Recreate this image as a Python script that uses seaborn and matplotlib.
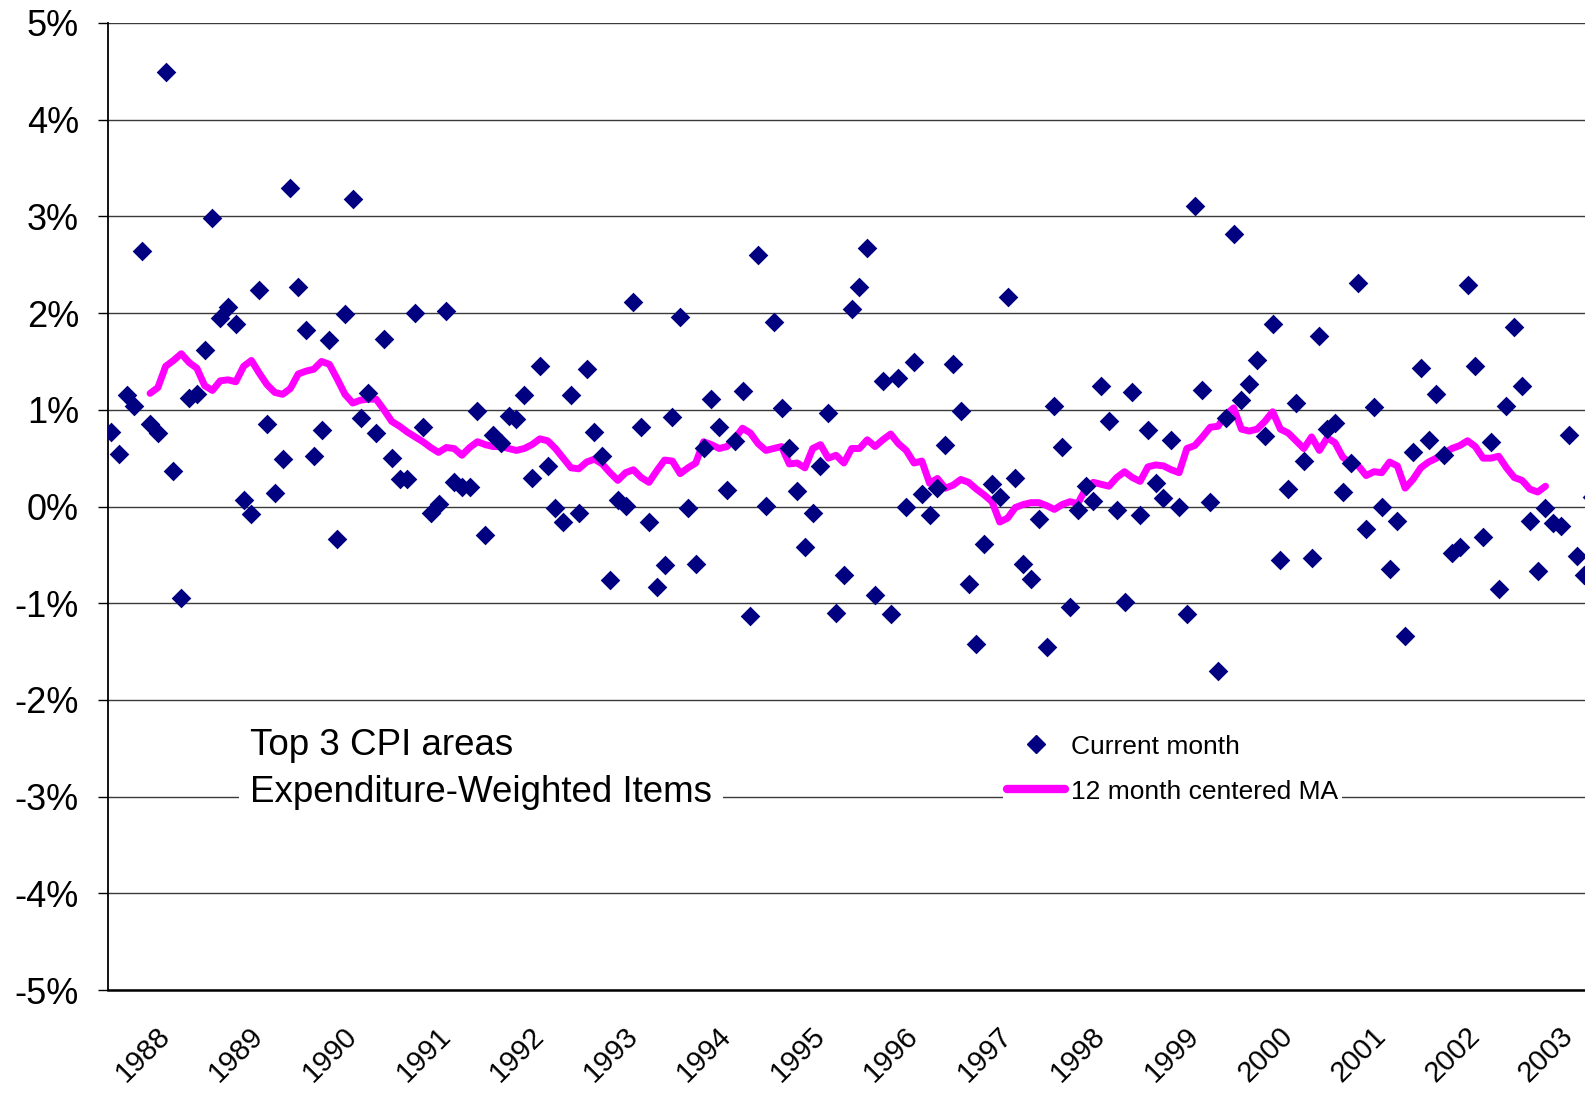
import numpy as np
import pandas as pd
import matplotlib
matplotlib.use("Agg")
import matplotlib.pyplot as plt
from matplotlib.ticker import FuncFormatter
from matplotlib.lines import Line2D
import seaborn as sns

# --- dados (variacao mensal, %) ---
current_month = [
    0.77, 0.54, 1.15, 1.04, 2.64, 0.85, 0.76, 4.49, 0.37, -0.95,
    1.12, 1.16, 1.62, 2.98, 1.95, 2.06, 1.89, 0.07, -0.08, 2.24,
    0.85, 0.14, 0.49, 3.29, 2.27, 1.83, 0.52, 0.79, 1.72, -0.34,
    1.99, 3.18, 0.92, 1.17, 0.76, 1.73, 0.50, 0.28, 0.28, 2.00,
    0.82, -0.07, 0.03, 2.02, 0.25, 0.20, 0.20, 0.99, -0.29, 0.74,
    0.66, 0.94, 0.90, 1.15, 0.29, 1.45, 0.42, -0.02, -0.16, 1.15,
    -0.07, 1.42, 0.77, 0.52, -0.76, 0.07, 0.01, 2.11, 0.82, -0.16,
    -0.83, -0.60, 0.93, 1.96, -0.02, -0.59, 0.60, 1.11, 0.82, 0.17,
    0.68, 1.19, -1.13, 2.60, 0.01, 1.91, 1.02, 0.61, 0.16, -0.42,
    -0.07, 0.42, 0.97, -1.10, -0.71, 2.04, 2.27, 2.67, -0.92, 1.30,
    -1.11, 1.33, -0.01, 1.49, 0.13, -0.09, 0.19, 0.64, 1.47, 0.99,
    -0.80, -1.42, -0.39, 0.23, 0.10, 2.17, 0.29, -0.59, -0.75, -0.13,
    -1.45, 1.04, 0.62, -1.04, -0.04, 0.21, 0.06, 1.25, 0.88, -0.04,
    -0.99, 1.18, -0.09, 0.79, 0.24, 0.09, 0.69, -0.01, -1.11, 3.11,
    1.20, 0.05, -1.70, 0.92, 2.82, 1.10, 1.27, 1.52, 0.73, 1.89,
    -0.55, 0.18, 1.07, 0.47, -0.53, 1.76, 0.80, 0.86, 0.15, 0.45,
    2.31, -0.23, 1.03, -0.01, -0.65, -0.15, -1.34, 0.56, 1.43, 0.69,
    1.16, 0.53, -0.48, -0.42, 2.29, 1.45, -0.32, 0.67, -0.85, 1.04,
    1.86, 1.25, -0.15, -0.67, -0.02, -0.17, -0.20, 0.74, -0.51, -0.71,
    0.10,
]

# media movel centrada de 12 meses (comeca no mes 5)
ma_start = 5
centered_ma = [
    1.17, 1.23, 1.45, 1.51, 1.58, 1.49, 1.43, 1.25, 1.20, 1.30,
    1.31, 1.29, 1.45, 1.51, 1.38, 1.26, 1.18, 1.16, 1.22, 1.37,
    1.40, 1.42, 1.50, 1.47, 1.32, 1.16, 1.07, 1.10, 1.11, 1.11,
    1.00, 0.88, 0.83, 0.77, 0.72, 0.67, 0.61, 0.56, 0.61, 0.60,
    0.53, 0.61, 0.67, 0.64, 0.62, 0.62, 0.60, 0.58, 0.60, 0.64,
    0.70, 0.68, 0.60, 0.50, 0.40, 0.39, 0.46, 0.49, 0.44, 0.35,
    0.27, 0.35, 0.38, 0.30, 0.25, 0.37, 0.48, 0.47, 0.34, 0.40,
    0.45, 0.67, 0.64, 0.60, 0.62, 0.70, 0.81, 0.76, 0.65, 0.58,
    0.60, 0.62, 0.44, 0.45, 0.40, 0.60, 0.64, 0.50, 0.53, 0.45,
    0.60, 0.60, 0.69, 0.62, 0.69, 0.75, 0.65, 0.58, 0.45, 0.47,
    0.24, 0.29, 0.19, 0.22, 0.28, 0.25, 0.18, 0.12, 0.05, -0.16,
    -0.12, -0.01, 0.02, 0.04, 0.04, 0.01, -0.03, 0.02, 0.05, 0.03,
    0.18, 0.25, 0.23, 0.21, 0.30, 0.36, 0.30, 0.26, 0.41, 0.43,
    0.42, 0.38, 0.35, 0.60, 0.63, 0.72, 0.82, 0.83, 0.95, 1.02,
    0.80, 0.78, 0.80, 0.88, 0.98, 0.80, 0.76, 0.68, 0.60, 0.72,
    0.58, 0.71, 0.66, 0.51, 0.45, 0.42, 0.32, 0.36, 0.35, 0.46,
    0.42, 0.19, 0.28, 0.40, 0.46, 0.50, 0.55, 0.60, 0.63, 0.68,
    0.62, 0.50, 0.50, 0.52, 0.40, 0.30, 0.27, 0.18, 0.15, 0.21,
]

year_labels = [str(a) for a in range(1988, 2004)]
first_january = 7  # posicao do primeiro rotulo (mes de jan/1988)

y_ticks = list(range(-5, 6))

# --- estilo ---
sns.set_style("white")
plt.rcParams['font.family'] = ['Liberation Sans', 'DejaVu Sans']
plt.rcParams['axes.unicode_minus'] = False
plt.rcParams['text.color'] = 'black'
plt.rcParams['xtick.color'] = 'black'
plt.rcParams['ytick.color'] = 'black'
plt.rcParams['axes.labelcolor'] = 'black'

COR_PONTO = '#000080'
COR_MEDIA = '#FF00FF'

df_pts = pd.DataFrame({'MES': np.arange(len(current_month)), 'VAR': current_month})
df_ma = pd.DataFrame({'MES': np.arange(len(centered_ma)) + ma_start, 'MA': centered_ma})

fig = plt.figure(figsize=(15.85, 10.94), dpi=100)
ax = fig.add_axes([0.0682, 0.095, 0.9318, 0.884])

sns.lineplot(ax=ax, data=df_ma, x='MES', y='MA', color=COR_MEDIA, linewidth=5,
             solid_capstyle='round', solid_joinstyle='round', zorder=2, legend=False)
sns.scatterplot(ax=ax, data=df_pts, x='MES', y='VAR', marker='D', color=COR_PONTO,
                s=100, edgecolor=COR_PONTO, linewidth=0, zorder=3, legend=False)

ax.set_ylim(-5, 5)
ax.set_xlim(-0.385, 189.07)
ax.set_yticks(y_ticks)
ax.yaxis.set_major_formatter(FuncFormatter(lambda v, p: f"{v:.0f}%"))
ax.set_xticks([first_january + 12 * k for k in range(len(year_labels))])
ax.set_xticklabels(year_labels)
ax.set_xlabel('')
ax.set_ylabel('')

ax.yaxis.grid(True, color='#3a3a3a', linewidth=1.0)
ax.xaxis.grid(False)
for lado in ['top', 'right']:
    ax.spines[lado].set_visible(False)
ax.spines['left'].set_color('black')
ax.spines['left'].set_linewidth(1.3)
ax.spines['bottom'].set_color('black')
ax.spines['bottom'].set_linewidth(1.8)

ax.tick_params(axis='y', which='major', left=True, length=7, width=1, color='black',
               pad=14, labelsize=26, labelcolor='black')
ax.tick_params(axis='x', which='major', bottom=False, length=0, pad=30, labelsize=21,
               labelcolor='black')
for rot in ax.get_xticklabels():
    rot.set_rotation(45)
    rot.set_ha('right')
    rot.set_va('center')
    rot.set_rotation_mode('anchor')

fig.text(0.1577, 0.297, "Top 3 CPI areas\nExpenditure-Weighted Items", fontsize=26.5,
         color='black', ha='left', va='center', linespacing=1.42,
         bbox=dict(boxstyle='square,pad=0.3', facecolor='white', edgecolor='none'))

handles = [
    Line2D([], [], marker='D', color=COR_PONTO, linestyle='none', markersize=9),
    Line2D([], [], color=COR_MEDIA, linewidth=6),
]
leg = fig.legend(handles, ['Current month', '12 month centered MA'], loc='center left',
                 bbox_to_anchor=(0.633, 0.297), fontsize=19, frameon=True,
                 facecolor='white', edgecolor='none', framealpha=1, fancybox=False,
                 borderpad=0.15, borderaxespad=0, handlelength=2.2, handletextpad=0.2,
                 labelspacing=0.8)
for t in leg.get_texts():
    t.set_color('black')

fig.savefig('out.png', dpi=100)
